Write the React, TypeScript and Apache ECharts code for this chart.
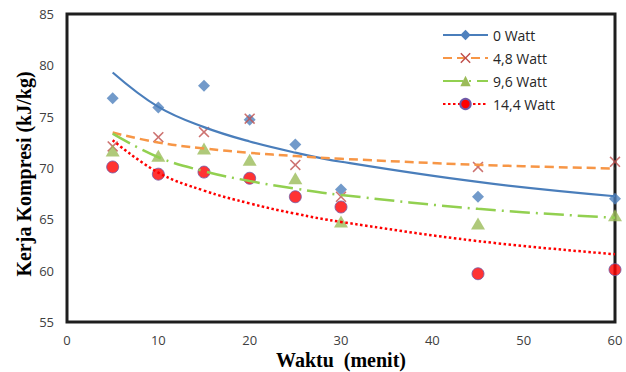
import React, { useEffect, useRef } from "react";
import * as echarts from "echarts";

// Data
const xValues = [5, 10, 15, 20, 25, 30, 45, 60];
const watt0 = [76.8, 75.9, 78.0, 74.7, 72.3, 67.9, 67.2, 67.0];
const watt48 = [72.1, 73.0, 73.5, 74.8, 70.3, 67.2, 70.1, 70.6];
const watt96 = [71.7, 71.2, 71.9, 70.8, 69.0, 64.8, 64.6, 65.4];
const watt144 = [70.1, 69.4, 69.6, 69.0, 67.2, 66.2, 59.7, 60.1];

// Trendline (logarithmic) values at the same x
const trend0 = [79.3, 75.95, 73.98, 72.58, 71.5, 70.61, 68.64, 67.25];
const trend48 = [73.45, 72.48, 71.9, 71.48, 71.16, 70.9, 70.31, 69.95];
const trend96 = [73.35, 71.05, 69.69, 68.73, 67.99, 67.38, 66.02, 65.15];
const trend144 = [72.7, 69.55, 67.8, 66.55, 65.55, 64.75, 62.88, 61.6];

const seriesNames = ["0 Watt", "4,8 Watt", "9,6 Watt", "14,4 Watt"];
const xTicks = [0, 10, 20, 30, 40, 50, 60];

const X_PATH =
  "path://M0,1 L1,0 L5,4 L9,0 L10,1 L6,5 L10,9 L9,10 L5,6 L1,10 L0,9 L4,5 Z";

const pairs = (ys: number[]) => xValues.map((x, i) => [x, ys[i]]);

export default function App() {
  const ref = useRef<HTMLDivElement>(null);
  useEffect(() => {
    if (!ref.current) return;
    const chart = echarts.init(ref.current, undefined, { renderer: "svg" });
    const markers = [
      { data: watt0, symbol: "diamond", size: [12, 12], item: { color: "#4f81bd" } },
      { data: watt48, symbol: X_PATH, size: [11, 11], item: { color: "#c0504d" } },
      { data: watt96, symbol: "triangle", size: [14, 12], item: { color: "#9bbb59" } },
      {
        data: watt144,
        symbol: "circle",
        size: [12, 12],
        item: { color: "#ff0000", borderColor: "#6f5aa8", borderWidth: 1 },
      },
    ];
    const trends = [
      { data: trend0, line: { color: "#4a7ebb", width: 2.2, type: "solid" } },
      { data: trend48, line: { color: "#f79646", width: 2.5, type: [9, 5] } },
      { data: trend96, line: { color: "#92d050", width: 2.5, type: [20, 6, 2, 6] } },
      { data: trend144, line: { color: "#ff0000", width: 2.5, type: [2.5, 2.5] } },
    ];
    const series: any[] = [];
    markers.forEach((m, i) => {
      series.push({
        name: seriesNames[i] + " data",
        type: "scatter",
        data: pairs(m.data),
        symbol: m.symbol,
        symbolSize: m.size,
        itemStyle: m.item,
        z: 2,
      });
    });
    trends.forEach((t, i) => {
      series.push({
        name: seriesNames[i],
        type: "line",
        data: pairs(t.data),
        smooth: 0.4,
        symbol: markers[i].symbol,
        showSymbol: false,
        itemStyle: markers[i].item,
        lineStyle: t.line,
        z: 3,
      });
    });
    chart.setOption({
      animation: false,
      backgroundColor: "#ffffff",
      grid: {
        left: 67,
        top: 14,
        right: 11,
        bottom: 50,
        show: true,
        borderColor: "#1e1e1e",
        borderWidth: 3,
      },
      legend: {
        data: seriesNames,
        orient: "vertical",
        left: 442,
        top: 28,
        padding: 0,
        itemWidth: 45,
        itemHeight: 13,
        itemGap: 9,
        textStyle: { fontFamily: "Open Sans", fontSize: 14, color: "#262626" },
      },
      xAxis: {
        type: "value",
        min: 0,
        max: 60,
        interval: 10,
        axisLine: { show: false },
        axisTick: { show: false },
        splitLine: { show: false },
        axisLabel: {
          margin: 11,
          fontFamily: "Open Sans",
          fontSize: 13,
          color: "#404040",
          formatter: (v: number) => (xTicks.includes(v) ? String(v) : ""),
        },
      },
      yAxis: {
        type: "value",
        min: 55,
        max: 85,
        interval: 5,
        axisLine: { show: false },
        axisTick: { show: false },
        splitLine: { show: false },
        axisLabel: {
          margin: 13,
          fontFamily: "Open Sans",
          fontSize: 13,
          color: "#404040",
        },
      },
      graphic: [
        {
          type: "text",
          x: 341,
          y: 360,
          style: {
            text: "Waktu  (menit)",
            fontFamily: "Liberation Serif",
            fontWeight: "bold",
            fontSize: 20,
            fill: "#000000",
            textAlign: "center",
            textVerticalAlign: "middle",
          },
        },
        {
          type: "text",
          x: 24,
          y: 174,
          rotation: Math.PI / 2,
          style: {
            text: "Kerja Kompresi (kJ/kg)",
            fontFamily: "Liberation Serif",
            fontWeight: "bold",
            fontSize: 20,
            fill: "#000000",
            textAlign: "center",
            textVerticalAlign: "middle",
          },
        },
      ],
      series,
    });
    return () => chart.dispose();
  }, []);
  return (
    <div
      ref={ref}
      style={{ position: "fixed", left: 0, top: 0, width: 626, height: 372 }}
    />
  );
}
